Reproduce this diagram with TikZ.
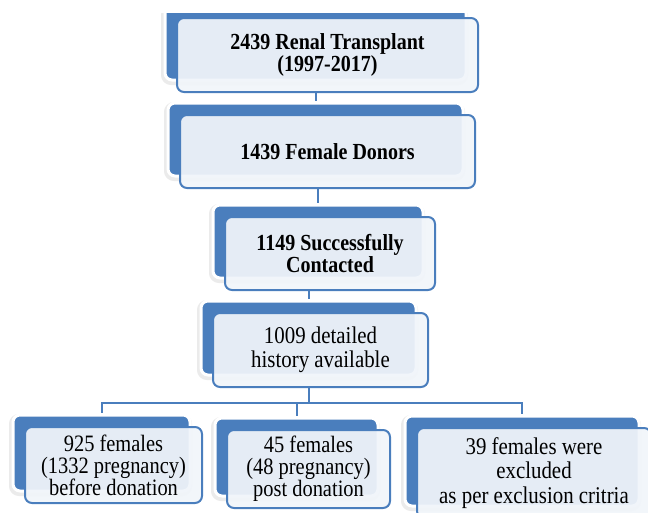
\documentclass[tikz,border=0pt]{standalone}
\usepackage{fontspec}
\setmainfont{Liberation Serif}[FakeStretch=0.87]
\usetikzlibrary{shadows}
\definecolor{smartblue}{RGB}{74,126,189}
\definecolor{boxfill}{RGB}{241,245,250}

\begin{document}
\begin{tikzpicture}[x=1pt, y=-1pt,
    rueck/.style={general shadow={shadow xshift=-13pt, shadow yshift=10pt, draw=black!8, line width=6pt},
      general shadow={shadow xshift=-12pt, shadow yshift=12pt, fill=smartblue, fill opacity=1, draw=white, line width=3pt}},
    kasten/.style={rueck, draw=smartblue, line width=2pt, rounded corners=7pt, fill=boxfill, fill opacity=0.93, text opacity=1, align=center, inner sep=0pt},
    fett/.style={font=\bfseries\fontsize{23}{19}\selectfont},
    schlicht/.style={font=\fontsize{23.5}{22}\selectfont},
    weit/.style={font=\fontsize{24}{24.5}\selectfont},
    linie/.style={smartblue, line width=2pt}]
  \useasboundingbox (0,0) rectangle (648,512);
  \clip (0,13) rectangle (648,512);

  % Kaesten
  \node[kasten, fett, minimum width=301pt, minimum height=74pt] (transplant) at (327.5,55) {2439 Renal Transplant\\(1997-2017)};
  \node[kasten, fett, minimum width=295pt, minimum height=73pt] (spender) at (327.5,151.5) {1439 Female Donors};
  \node[kasten, fett, minimum width=210pt, minimum height=73pt] (kontakt) at (330,253.5) {1149 Successfully\\Contacted};
  \node[kasten, weit, minimum width=215pt, minimum height=74pt] (detail) at (320.5,350) {1009 detailed\\history available};

  \node[kasten, schlicht, minimum width=177pt, minimum height=76pt] (vorher) at (113.5,465) {925 females\\(1332 pregnancy)\\before donation};
  \node[kasten, schlicht, minimum width=163pt, minimum height=78pt] (nachher) at (308.5,469) {45 females\\(48 pregnancy)\\post donation};
  \node[kasten, weit, minimum width=234pt, minimum height=90pt] (ausschluss) at (534,473) {39 females were\\excluded\\as per exclusion critria};

  % Verbindungen
  \draw[linie] ([xshift=-12pt]spender.north |- transplant.south) -- ([xshift=-12pt,yshift=13.5pt]spender.north);
  \draw[linie] ([xshift=-12pt]kontakt.north |- spender.south) -- ([xshift=-12pt,yshift=13.5pt]kontakt.north);
  \draw[linie] ([xshift=-12pt]detail.north |- kontakt.south) -- ([xshift=-12pt,yshift=13.5pt]detail.north);

  % Verzweigung unten
  \coordinate (gabel) at (308.5,403);
  \draw[linie] ([xshift=-12pt]detail.south) -- (gabel);
  \draw[linie] ([xshift=-12pt,yshift=13.5pt]vorher.north) |- (gabel) -| ([xshift=-12pt,yshift=13.5pt]ausschluss.north);
  \draw[linie] ([xshift=-12pt,yshift=13.5pt]nachher.north) -- ([xshift=-12pt]nachher.north |- gabel);
\end{tikzpicture}
\end{document}
